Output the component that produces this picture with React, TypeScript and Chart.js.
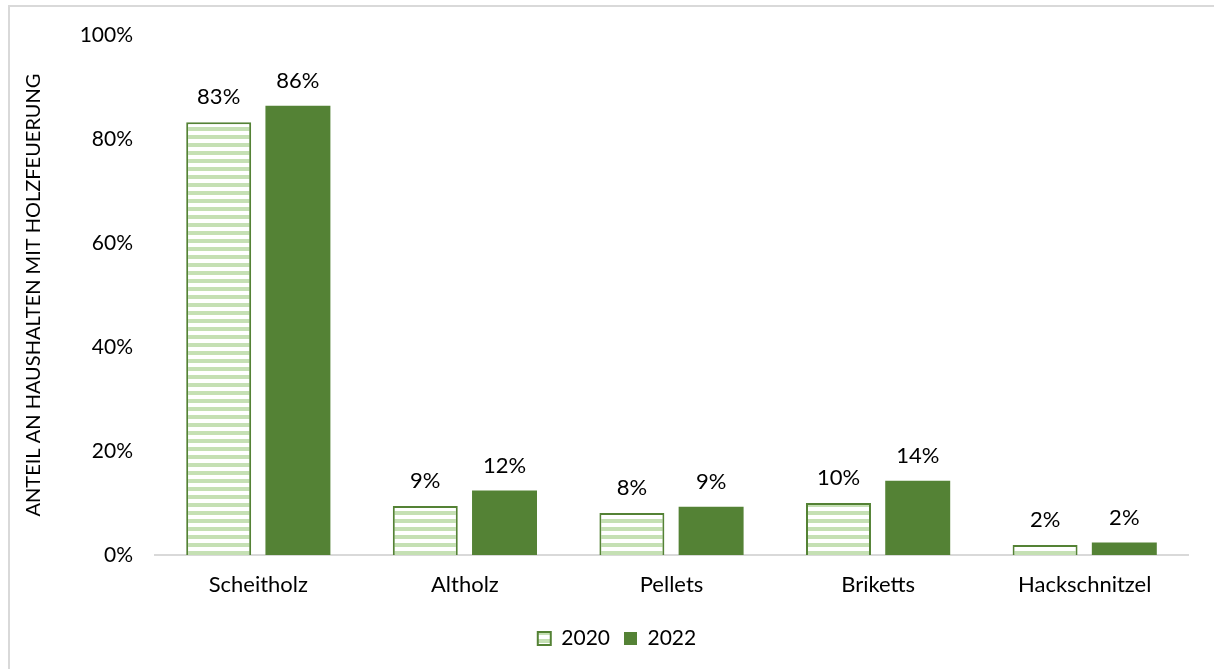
import React, { useEffect, useRef } from "react";
import { Chart, registerables } from "chart.js";

Chart.register(...registerables);

const categories = ["Scheitholz", "Altholz", "Pellets", "Briketts", "Hackschnitzel"];
const values2020 = [83.2, 9.4, 8.1, 10.0, 1.9];
const values2022 = [86.4, 12.4, 9.3, 14.3, 2.4];
const labels2020 = ["83%", "9%", "8%", "10%", "2%"];
const labels2022 = ["86%", "12%", "9%", "14%", "2%"];
const seriesNames = ["2020", "2022"];
const yTicks = [0, 20, 40, 60, 80, 100];
const yTitle = "ANTEIL AN HAUSHALTEN MIT HOLZFEUERUNG";

const DARK = "#548235";
const LIGHT = "#c5e0b4";
const FONT = "Lato, 'Noto Sans', sans-serif";

function makeStripes(): CanvasPattern | string {
  const c = document.createElement("canvas");
  c.width = 8;
  c.height = 8;
  const ctx = c.getContext("2d");
  if (!ctx) return LIGHT;
  ctx.fillStyle = "#ffffff";
  ctx.fillRect(0, 0, 8, 8);
  ctx.fillStyle = LIGHT;
  ctx.fillRect(0, 0, 8, 4);
  return ctx.createPattern(c, "repeat") || LIGHT;
}

const valueLabelPlugin = {
  id: "valueLabels",
  afterDatasetsDraw(chart: any) {
    const ctx = chart.ctx;
    const texts = [labels2020, labels2022];
    ctx.save();
    ctx.font = `22px ${FONT}`;
    ctx.fillStyle = "#000000";
    ctx.textAlign = "center";
    ctx.textBaseline = "middle";
    chart.data.datasets.forEach((_: any, di: number) => {
      const meta = chart.getDatasetMeta(di);
      meta.data.forEach((bar: any, i: number) => {
        ctx.fillText(texts[di][i], bar.x, bar.y - 25);
      });
    });
    ctx.restore();
  },
};

const legendShiftPlugin = {
  id: "legendShift",
  afterLayout(chart: any) {
    const lg = chart.legend;
    if (lg) {
      lg.left += 18;
      lg.right += 18;
    }
  },
};

export default function App() {
  const canvasRef = useRef<HTMLCanvasElement | null>(null);

  useEffect(() => {
    document.body.style.margin = "0";
    document.body.style.overflow = "hidden";
    const canvas = canvasRef.current;
    if (!canvas) return;
    const stripes = makeStripes();
    const chart = new Chart(canvas, {
      type: "bar",
      data: {
        labels: categories,
        datasets: [
          {
            label: seriesNames[0],
            data: values2020,
            backgroundColor: stripes as any,
            borderColor: DARK,
            borderWidth: 2,
            categoryPercentage: 0.767,
            barPercentage: 0.82,
          },
          {
            label: seriesNames[1],
            data: values2022,
            backgroundColor: DARK,
            borderColor: DARK,
            borderWidth: 0,
            categoryPercentage: 0.767,
            barPercentage: 0.82,
          },
        ],
      },
      options: {
        animation: false,
        responsive: false,
        maintainAspectRatio: false,
        layout: { padding: { left: 0, right: 26, top: 28, bottom: 10 } },
        plugins: {
          legend: {
            position: "bottom",
            labels: {
              font: { family: FONT, size: 21 },
              color: "#000000",
              boxWidth: 13,
              boxHeight: 13,
              padding: 14,
            },
          },
          tooltip: { enabled: false },
        },
        scales: {
          x: {
            grid: { display: false, drawTicks: false },
            border: { display: true, color: "#d9d9d9", width: 2 },
            ticks: {
              font: { family: FONT, size: 22 },
              color: "#000000",
              padding: 17,
            },
            afterFit(scale: any) {
              scale.height = 59;
            },
          },
          y: {
            min: 0,
            max: 100,
            afterBuildTicks(scale: any) {
              scale.ticks = yTicks.map((v) => ({ value: v }));
            },
            grid: { display: false, drawTicks: false },
            border: { display: false },
            ticks: {
              font: { family: FONT, size: 21 },
              color: "#000000",
              padding: 22,
              callback: (v: any) => `${v}%`,
            },
            title: {
              display: true,
              text: yTitle,
              font: { family: FONT, size: 20 },
              color: "#000000",
              padding: { top: 12, bottom: 0 },
            },
            afterFit(scale: any) {
              scale.width = 145;
              scale.paddingTop = 0;
              scale.paddingBottom = 0;
            },
          },
        },
      },
      plugins: [valueLabelPlugin, legendShiftPlugin],
    });
    return () => chart.destroy();
  }, []);

  return (
    <div
      style={{
        position: "absolute",
        left: 8,
        top: 5,
        width: 1206,
        height: 664,
        borderTop: "2px solid #d9d9d9",
        borderLeft: "2px solid #d9d9d9",
        boxSizing: "border-box",
        background: "#ffffff",
      }}
    >
      <canvas ref={canvasRef} width={1204} height={662} style={{ display: "block" }} />
    </div>
  );
}
